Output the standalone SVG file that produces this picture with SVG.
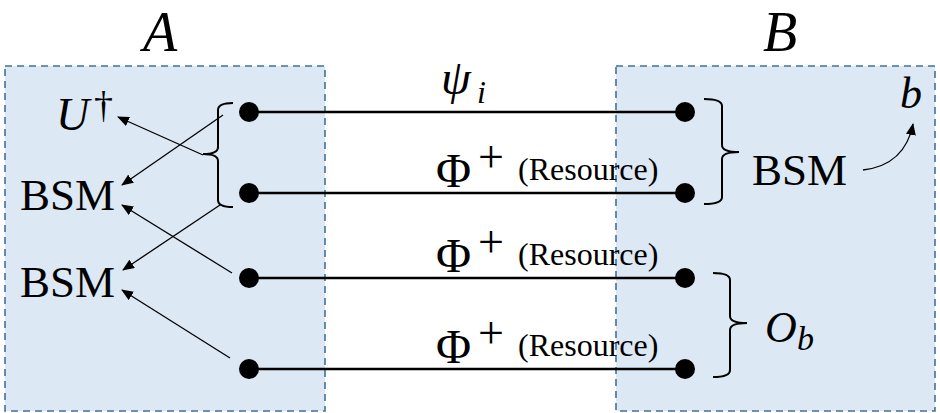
<svg xmlns="http://www.w3.org/2000/svg" width="940" height="413" viewBox="0 0 940 413">
<style>
.box{fill:#dde8f5;stroke:#41719c;stroke-width:1.6;stroke-dasharray:7 5}
.wire{stroke:#000;stroke-width:2.5;fill:none}
.thin{stroke:#000;stroke-width:1.3;fill:none}
.brace{stroke:#000;stroke-width:2;fill:none}
.dot{fill:#000}
text{font-family:"Liberation Serif","Times New Roman",serif;fill:#000}
.it{font-style:italic}
</style>
<defs>
<marker id="ah" viewBox="0 0 12 10" refX="11" refY="5" markerWidth="12" markerHeight="10" markerUnits="userSpaceOnUse" orient="auto">
<path d="M0,0 L12,5 L0,10 Z" fill="#000"/>
</marker>
</defs>
<g id="boxA">
<rect class="box" x="5" y="66" width="320" height="345"/>
<text class="it" x="160" y="51" font-size="56" text-anchor="middle">A</text>
</g>
<g id="boxB">
<rect class="box" x="616" y="66" width="319" height="345"/>
<text class="it" x="780" y="51" font-size="56" text-anchor="middle">B</text>
</g>
<g id="leftLabels">
<text class="it" x="56" y="130" font-size="46">U</text>
<text x="94" y="118" font-size="38">†</text>
<text x="20" y="210" font-size="45">BSM</text>
<text x="20" y="297" font-size="45">BSM</text>
</g>
<g id="connectors">
<line class="wire" x1="249" y1="112" x2="685" y2="112"/>
<line class="wire" x1="249" y1="193" x2="685" y2="193"/>
<line class="wire" x1="249" y1="278" x2="685" y2="278"/>
<line class="wire" x1="249" y1="369" x2="685" y2="369"/>
<line class="thin" x1="203" y1="155" x2="118" y2="117" marker-end="url(#ah)"/>
<line class="thin" x1="223" y1="115" x2="122" y2="185" marker-end="url(#ah)"/>
<line class="thin" x1="232" y1="273" x2="122" y2="205" marker-end="url(#ah)"/>
<line class="thin" x1="220" y1="205" x2="123" y2="270" marker-end="url(#ah)"/>
<line class="thin" x1="230" y1="358" x2="122" y2="290" marker-end="url(#ah)"/>
<path class="thin" d="M863,170 Q905,165 913,124" stroke-width="2" marker-end="url(#ah)"/>
</g>
<g id="dots">
<circle class="dot" cx="249" cy="112" r="10"/>
<circle class="dot" cx="249" cy="193" r="10"/>
<circle class="dot" cx="249" cy="278" r="10"/>
<circle class="dot" cx="249" cy="369" r="10"/>
<circle class="dot" cx="685" cy="112" r="10"/>
<circle class="dot" cx="685" cy="193" r="10"/>
<circle class="dot" cx="685" cy="278" r="10"/>
<circle class="dot" cx="685" cy="369" r="10"/>
</g>
<g id="braces">
<path class="brace" d="M233,103 Q218,103 218,110 L218,147 Q218,154 203,154 Q218,154 218,161 L218,200 Q218,207 233,207"/>
<path class="brace" d="M704,99 Q722,99 722,106 L722,145 Q722,152 739,152 Q722,152 722,159 L722,197 Q722,204 704,204"/>
<path class="brace" d="M713,273 Q730,273 730,280 L730,316 Q730,323 747,323 Q730,323 730,330 L730,370 Q730,377 713,377"/>
</g>
<g id="wireLabels">
<text class="it" x="441" y="94" font-size="48">ψ</text>
<text class="it" x="477" y="103" font-size="32">i</text>
<g id="phi1">
<text x="436" y="187" font-size="48">Φ</text>
<text x="478" y="172" font-size="46">+</text>
<text x="518" y="180" font-size="32">(Resource)</text>
</g>
<g id="phi2">
<text x="436" y="272" font-size="48">Φ</text>
<text x="478" y="257" font-size="46">+</text>
<text x="518" y="265" font-size="32">(Resource)</text>
</g>
<g id="phi3">
<text x="436" y="363" font-size="48">Φ</text>
<text x="478" y="348" font-size="46">+</text>
<text x="518" y="356" font-size="32">(Resource)</text>
</g>
</g>
<g id="rightLabels">
<text x="752" y="185" font-size="45">BSM</text>
<text class="it" x="900" y="108" font-size="44">b</text>
<text class="it" x="765" y="342" font-size="44">O</text>
<text class="it" x="797" y="350" font-size="34">b</text>
</g>
</svg>
